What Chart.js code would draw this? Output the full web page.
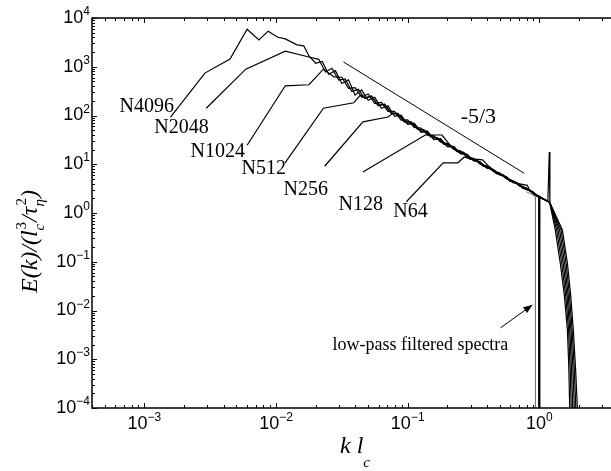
<!DOCTYPE html>
<html>
<head>
<meta charset="utf-8">
<script src="https://cdn.jsdelivr.net/npm/chart.js@4.4.0/dist/chart.umd.min.js"></script>
<style>
html, body { margin: 0; padding: 0; background: #fff; }
</style>
</head>
<body>
<canvas id="g1" width="611" height="471"></canvas>
<script>
// axis limits and decade ticks (k l_c , E(k)/(l_c^3/tau^2))
var xMin = 4e-4, xMax = 3.5, yMin = 1e-4, yMax = 1e4;
var xTickExp = [-3, -2, -1, 0];
var yTickExp = [-4, -3, -2, -1, 0, 1, 2, 3, 4];

// spectra
var k4096 = [0.00158,0.00288,0.00447,0.00603,0.00741,0.00871,0.01023,0.01175,0.01445,0.01622,0.01778,
  0.0200,0.0224,0.0251,0.0282,0.0316,0.0355,0.0398,0.0447,0.0501,0.0562,0.0631,0.0708,0.0794,0.0891,0.100,0.112,0.126,0.141,0.158,0.178,
  0.200,0.224,0.251,0.282,0.316,0.355,0.398,0.447,0.501,0.562,0.631,0.708,0.794,0.891,1.00,1.12,
  1.16,1.19,1.202,1.321,1.442,1.549,1.633,1.675,1.706];
var e4096 = [93,741,1445,5890,3550,5370,4070,3720,2820,2690,1660,
  1180,1290,700,830,455,540,262,335,205,236,140,158,96,102,66,70,45,48,32,33.5,
  23,23.2,16.4,16.1,11.9,11.1,8.4,7.8,6.0,5.6,4.2,3.9,3.0,2.74,2.08,1.82,
  1.75,17.8,1.58,0.447,0.0933,0.0200,0.00398,0.00063,0.000063];

var k2048 = [0.00295,0.00589,0.01175,0.01778,
  0.0211,0.0237,0.0266,0.0299,0.0335,0.0376,0.0422,0.0473,0.0531,0.0596,0.0668,0.0750,0.0841,0.0944,0.106,0.119,0.133,0.150,
  0.168,0.188,0.211,0.237,0.266,0.299,0.335,0.376,0.422,0.473,0.531,0.596,0.668,0.750,0.841,0.944,1.06,
  1.16,1.202,1.355,1.479,1.585,1.667,1.714,1.754];
var e2048 = [141,891,2090,1585,
  1420,780,930,530,560,310,345,222,250,160,168,110,111,73,74,52,50,36,
  35,25.8,24.5,18.2,17.2,12.9,12.1,9.2,8.5,6.5,6.0,4.6,4.2,3.3,3.0,2.3,1.97,
  1.75,1.58,0.447,0.0933,0.0200,0.00398,0.00063,0.000063];

var k1024 = [0.00603,0.01175,0.01778,0.0229,0.0275,
  0.0316,0.0355,0.0398,0.0447,0.0501,0.0562,0.0631,0.0708,0.0794,0.0891,0.100,0.112,0.126,0.141,0.158,0.178,
  0.200,0.224,0.251,0.282,0.316,0.355,0.398,0.447,0.501,0.562,0.631,0.708,0.794,0.891,1.00,1.12,
  1.16,1.202,1.390,1.517,1.622,1.702,1.754,1.803];
var e1024 = [24.5,407,427,891,617,
  610,360,372,236,276,176,186,121,122,80,81,57,55,40,38.2,28.3,
  26.6,20.1,18.8,14.0,13.3,10.0,9.3,7.1,6.6,5.0,4.6,3.55,3.3,2.55,2.18,1.78,
  1.75,1.58,0.447,0.0933,0.0200,0.00398,0.00063,0.000063];

var k512 = [0.0117,0.0229,0.0389,0.0437,
  0.0473,0.0531,0.0596,0.0668,0.0750,0.0841,0.0944,0.106,0.119,0.133,0.150,0.168,0.188,0.211,
  0.237,0.266,0.299,0.335,0.376,0.422,0.473,0.531,0.596,0.668,0.750,0.841,0.944,1.06,
  1.16,1.205,1.426,1.556,1.656,1.738,1.799,1.854];
var e512 = [10.7,141,182,263,
  230,250,162,170,112,110,75,73,53,50,37,34.5,26.2,24.2,
  18.5,17.0,13.1,12.0,9.3,8.4,6.6,5.9,4.7,4.1,3.4,2.95,2.35,1.95,
  1.75,1.58,0.447,0.0933,0.0200,0.00398,0.00063,0.000063];

var k256 = [0.0234,0.0457,0.0708,0.0776,
  0.0891,0.100,0.112,0.126,0.141,0.158,0.178,0.200,0.224,0.251,0.282,0.316,
  0.355,0.398,0.447,0.501,0.562,0.631,0.708,0.794,0.891,1.00,1.12,
  1.16,1.205,1.462,1.596,1.694,1.774,1.841,1.905];
var e256 = [9.1,74,93,112,
  96,67,68,47,46,33.0,32.0,23.3,22.7,16.7,15.7,11.8,
  11.1,8.4,7.8,6.1,5.3,4.5,3.7,3.2,2.6,2.2,1.8,
  1.75,1.58,0.447,0.0933,0.0200,0.00398,0.00063,0.000063];

var k128 = [0.0457,0.136,0.182,0.219,
  0.237,0.266,0.299,0.335,0.376,0.422,0.473,0.531,0.596,0.668,0.750,0.841,0.944,1.06,
  1.16,1.208,1.496,1.633,1.730,1.811,1.884,1.959];
var e128 = [6.9,39.8,39.8,21.4,
  18.9,17.5,12.6,12.3,9.0,8.7,6.4,6.1,4.5,4.2,3.2,3.0,2.3,2.0,
  1.75,1.58,0.447,0.0933,0.0200,0.00398,0.00063,0.000063];

var k64 = [0.0977,0.186,0.240,0.269,0.294,0.370,0.440,0.500,0.590,0.690,0.810,0.850,0.930,1.00,1.003];
var e64 = [1.70,10.7,10.7,14.1,13.0,12.3,7.6,6.5,4.9,4.0,3.7,2.8,2.4,2.1,0.000001];

// low-pass filtered spectra (cut at k l_c ~ 1)
var kFilt1 = [0.80, 0.933, 0.934];
var eFilt1 = [2.7, 2.25, 0.000001];
var kFilt2 = [0.90, 0.997, 0.998];
var eFilt2 = [2.4, 2.15, 0.000001];

// -5/3 guide line and arrow
var slopeK = [0.0325, 0.769];
var slopeE = [1255, 6.5];
var arrowK = [0.506, 0.885];
var arrowE = [0.0044, 0.013];

// text labels
var labelText = ['N4096', 'N2048', 'N1024', 'N512', 'N256', 'N128', 'N64'];
var labelK = [6.47e-4, 1.19e-3, 2.24e-3, 5.46e-3, 0.0114, 0.0298, 0.0778];
var labelE = [149, 55.4, 17.8, 8.0, 2.96, 1.46, 1.05];

function mk(k, e, w, c) {
  var pts = k.map(function(v, i) { return {x: v, y: e[i]}; });
  return {
    data: pts,
    borderColor: c || '#000',
    borderWidth: w || 1.2,
    pointRadius: 0,
    fill: false,
    tension: 0
  };
}

var SERIF = '"Liberation Serif", "Times New Roman", serif';
var SANS = '"Liberation Sans", Arial, sans-serif';

function powLabel(ctx, exp, x, y, align) {
  var base = '10';
  var sup = exp < 0 ? '\u2212' + (-exp) : String(exp);
  ctx.font = '18px ' + SANS;
  var wb = ctx.measureText(base).width;
  ctx.font = '12px ' + SANS;
  var ws = ctx.measureText(sup).width;
  var x0 = align === 'right' ? x - wb - ws : x - (wb + ws) / 2;
  ctx.textAlign = 'left';
  ctx.font = '18px ' + SANS;
  ctx.textBaseline = 'middle';
  ctx.fillText(base, x0, y);
  ctx.font = '12px ' + SANS;
  ctx.textBaseline = 'alphabetic';
  ctx.fillText(sup, x0 + wb, y - 3);
}

// draws runs of text: plain, or a stacked sub/superscript pair
function drawRuns(ctx, runs, x, y) {
  ctx.textAlign = 'left';
  ctx.textBaseline = 'alphabetic';
  runs.forEach(function(r) {
    if (r.sub || r.sup) {
      var w = 0;
      if (r.sub) { ctx.font = r.sub.f; ctx.fillText(r.sub.t, x, y + r.sub.dy); w = Math.max(w, ctx.measureText(r.sub.t).width); }
      if (r.sup) { ctx.font = r.sup.f; ctx.fillText(r.sup.t, x + 1, y + r.sup.dy); w = Math.max(w, ctx.measureText(r.sup.t).width + 1); }
      x += w;
    } else {
      ctx.font = r.f;
      ctx.fillText(r.t, x, y);
      x += ctx.measureText(r.t).width;
    }
  });
}

var deco = {
  id: 'deco',
  afterDraw: function(chart) {
    var ctx = chart.ctx, a = chart.chartArea;
    var xs = chart.scales.x, ys = chart.scales.y;
    ctx.save();
    ctx.strokeStyle = '#000';
    ctx.fillStyle = '#000';

    // tick marks, inside the box
    ctx.lineWidth = 1;
    ctx.beginPath();
    var e, m, v, p, len;
    for (e = -4; e <= 4; e++) {
      for (m = 1; m <= 9; m++) {
        v = m * Math.pow(10, e);
        if (v < yMin * 0.999 || v > yMax * 1.001) continue;
        p = Math.round(ys.getPixelForValue(v)) + 0.5;
        len = m === 1 ? 5 : 3;
        ctx.moveTo(a.left, p); ctx.lineTo(a.left + len, p);
      }
    }
    for (e = -4; e <= 0; e++) {
      for (m = 1; m <= 9; m++) {
        v = m * Math.pow(10, e);
        if (v < xMin || v > xMax) continue;
        p = Math.round(xs.getPixelForValue(v)) + 0.5;
        len = m === 1 ? 5 : 3;
        ctx.moveTo(p, a.bottom); ctx.lineTo(p, a.bottom - len);
        ctx.moveTo(p, a.top); ctx.lineTo(p, a.top + len);
      }
    }
    ctx.stroke();

    // frame (no right edge in the original crop)
    ctx.lineWidth = 1.5;
    ctx.beginPath();
    ctx.moveTo(a.right, a.top);
    ctx.lineTo(a.left, a.top);
    ctx.lineTo(a.left, a.bottom);
    ctx.lineTo(a.right, a.bottom);
    ctx.stroke();

    // tick labels
    yTickExp.forEach(function(ex) {
      powLabel(ctx, ex, a.left - 2, ys.getPixelForValue(Math.pow(10, ex)), 'right');
    });
    xTickExp.forEach(function(ex) {
      powLabel(ctx, ex, xs.getPixelForValue(Math.pow(10, ex)), a.bottom + 16, 'center');
    });

    // curve labels
    ctx.font = '20px ' + SERIF;
    ctx.textAlign = 'left';
    ctx.textBaseline = 'middle';
    labelText.forEach(function(t, i) {
      ctx.fillText(t, xs.getPixelForValue(labelK[i]), ys.getPixelForValue(labelE[i]));
    });
    ctx.font = '22px ' + SERIF;
    ctx.textAlign = 'center';
    ctx.fillText('-5/3', xs.getPixelForValue(0.344), ys.getPixelForValue(93));
    ctx.font = '18px ' + SERIF;
    ctx.textAlign = 'left';
    ctx.fillText('low-pass filtered spectra', xs.getPixelForValue(0.0268), ys.getPixelForValue(0.00196));

    // arrow head
    var x1 = xs.getPixelForValue(arrowK[0]), y1 = ys.getPixelForValue(arrowE[0]);
    var x2 = xs.getPixelForValue(arrowK[1]), y2 = ys.getPixelForValue(arrowE[1]);
    var ang = Math.atan2(y2 - y1, x2 - x1);
    ctx.beginPath();
    ctx.moveTo(x2, y2);
    ctx.lineTo(x2 - 9 * Math.cos(ang) + 3.5 * Math.sin(ang), y2 - 9 * Math.sin(ang) - 3.5 * Math.cos(ang));
    ctx.lineTo(x2 - 9 * Math.cos(ang) - 3.5 * Math.sin(ang), y2 - 9 * Math.sin(ang) + 3.5 * Math.cos(ang));
    ctx.closePath();
    ctx.fill();

    // axis titles
    var it = 'italic 24px ' + SERIF, sm = 'italic 15px ' + SERIF, smu = '15px ' + SERIF;
    drawRuns(ctx, [
      {t: 'k l', f: it},
      {sub: {t: 'c', f: sm, dy: 14}}
    ], 340, 453);

    ctx.translate(37, 293);
    ctx.rotate(-Math.PI / 2);
    drawRuns(ctx, [
      {t: 'E(k)/(l', f: it},
      {sub: {t: 'c', f: sm, dy: 7}, sup: {t: '3', f: smu, dy: -11}},
      {t: '/\u03c4', f: it},
      {sub: {t: '\u03b7', f: sm, dy: 7}, sup: {t: '2', f: smu, dy: -11}},
      {t: ')', f: it}
    ], 0, 0);
    ctx.restore();
  }
};

var ctx = document.getElementById('g1');

var myChart = new Chart(ctx, {
  type: 'line',
  data: {
    datasets: [
      mk(k4096, e4096),
      mk(k2048, e2048),
      mk(k1024, e1024),
      mk(k512, e512),
      mk(k256, e256),
      mk(k128, e128),
      mk(k64, e64),
      mk(kFilt1, eFilt1, 1, '#777'),
      mk(kFilt2, eFilt2, 2.2),
      mk(slopeK, slopeE, 1),
      mk(arrowK, arrowE, 1)
    ]
  },
  options: {
    responsive: false,
    animation: false,
    devicePixelRatio: 1,
    layout: { padding: { left: 92, top: 18, right: 0, bottom: 63 } },
    plugins: { legend: { display: false }, tooltip: { enabled: false } },
    scales: {
      x: {
        type: 'logarithmic',
        min: xMin,
        max: xMax,
        ticks: { display: false },
        grid: { display: false, drawTicks: false },
        border: { display: false },
        afterFit: function(s) { s.height = 0; }
      },
      y: {
        type: 'logarithmic',
        min: yMin,
        max: yMax,
        ticks: { display: false },
        grid: { display: false, drawTicks: false },
        border: { display: false },
        afterFit: function(s) { s.width = 0; }
      }
    }
  },
  plugins: [deco]
});
</script>
</body>
</html>
